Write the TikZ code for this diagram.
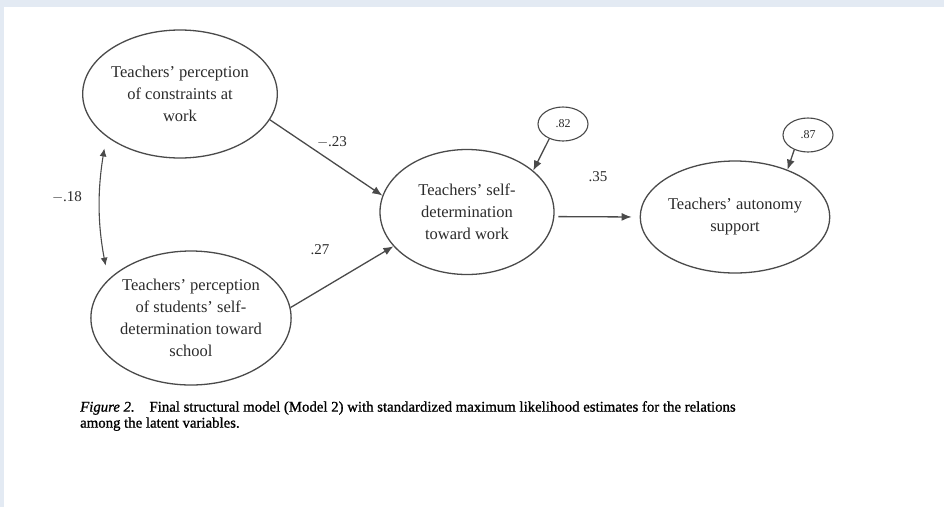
\documentclass[tikz,border=0pt]{standalone}
\usepackage{fontspec}
\setmainfont{Liberation Serif}
\usetikzlibrary{shapes.geometric,arrows.meta}
\definecolor{inkline}{HTML}{4A4A4A}
\definecolor{inktext}{HTML}{2B2B2B}
\definecolor{frameblue}{HTML}{E3EAF3}
\tikzset{
  latent/.style={ellipse,draw=inkline,line width=1.3pt,inner sep=0pt,
    align=center,text=inktext,font=\fontsize{16.5}{22}\selectfont},
  resid/.style={ellipse,draw=inkline,line width=1.1pt,inner sep=0pt,
    minimum width=50pt,minimum height=34pt,text=inktext,
    font=\fontsize{12}{14}\selectfont},
  path/.style={draw=inkline,line width=1.3pt,-{Latex[length=10pt,width=8pt]}},
  covar/.style={draw=inkline,line width=1.1pt,{Latex[length=8pt,width=7pt]}-{Latex[length=8pt,width=7pt]}},
  coef/.style={text=inktext,font=\fontsize{15}{18}\selectfont}
}
\begin{document}
\begin{tikzpicture}[x=1pt,y=-1pt]
  % page and the tinted frame strips on top and left
  \fill[white] (0,0) rectangle (944,507);
  \fill[frameblue] (0,0) rectangle (944,7);
  \fill[frameblue] (0,0) rectangle (4,507);
  \useasboundingbox (0,0) rectangle (944,507);

  % latent variables
  \node[latent,minimum width=192pt,minimum height=128pt] (constr) at (180,94)
    {Teachers' perception\\of constraints at\\work};
  \node[latent,minimum width=194pt,minimum height=134pt] (stud) at (191,318)
    {Teachers' perception\\of students' self-\\determination toward\\school};
  \node[latent,minimum width=174pt,minimum height=125pt] (selfdet) at (467,212)
    {Teachers' self-\\determination\\toward work};
  \node[latent,minimum width=160pt,minimum height=112pt] (auton) at (735,217)
    {Teachers' autonomy\\support};

  % disturbance terms
  \node[resid] (d1) at (563,124) {.82};
  \node[resid] (d2) at (808,135) {.87};

  % structural paths
  \draw[path] (constr.-16) -- (selfdet.169);
  \draw[path] (stud.6) -- (selfdet.205);
  \draw[path,shorten <=4pt,shorten >=8pt] (selfdet.-3) -- (auton.west);
  \draw[path] (d1.227) -- (selfdet.32);
  \draw[path] (d2.227) -- (auton.42);

  % correlation between the exogenous factors
  \draw[covar,shorten <=12pt,shorten >=14pt] (constr.210) to[bend right=10] (stud.155);

  % coefficients
  \node[coef] (k18) at (67,197) {$-$.18};
  \node[coef] (k23) at (332,142) {$-$.23};
  \node[coef] (k27) at (320,250) {.27};
  \node[coef] (k35) at (598,177) {.35};

  % caption
  \node[anchor=north west,align=left,text=black,inner sep=0pt,
    font=\fontsize{14.8}{16}\selectfont\addfontfeature{FakeBold=1}] (cap) at (80,401)
    {\textit{Figure 2.}\quad Final structural model (Model 2) with standardized maximum likelihood estimates for the relations\\
     among the latent variables.};
\end{tikzpicture}
\end{document}
